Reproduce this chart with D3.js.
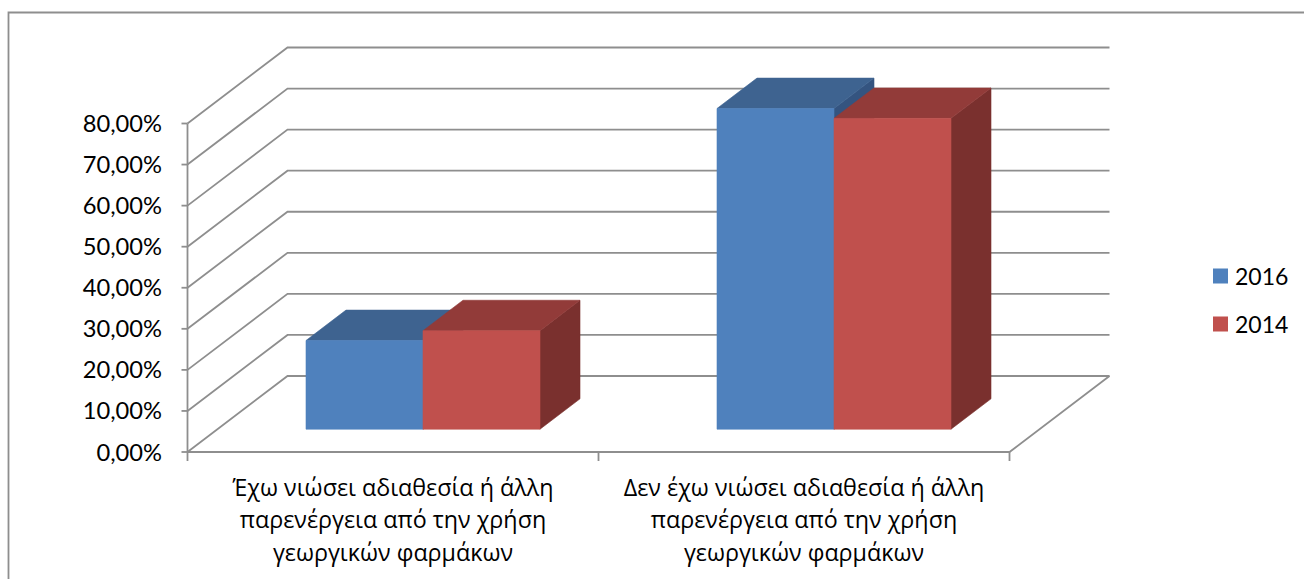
<!DOCTYPE html>
<html><head><meta charset="utf-8">
<script src="https://cdn.jsdelivr.net/npm/d3@7"></script>
<style>html,body{margin:0;padding:0;background:#fff}svg{display:block}
text{fill:#000}
.num{font-family:Lato,"Noto Sans",sans-serif}
.cat{font-family:"Open Sans","Noto Sans",sans-serif}</style></head>
<body><svg id="c" width="1304" height="579"></svg>
<script>
const categories = [
  ["Έχω νιώσει αδιαθεσία ή άλλη","παρενέργεια από την χρήση","γεωργικών φαρμάκων"],
  ["Δεν έχω νιώσει αδιαθεσία ή άλλη","παρενέργεια από την χρήση","γεωργικών φαρμάκων"]
];
const seriesNames = ["2016","2014"];
const values2016 = [21.6, 78.1];
const values2014 = [24.0, 75.7];
const yTicks = [0,10,20,30,40,50,60,70,80];
const faceColors = ["#4F81BD","#C0504D"];
const topColors  = ["#3E6390","#923B39"];
const sideColors = ["#345480","#7A302E"];
const gridColor = "#8E8E8E";

const svg = d3.select("#c");
const y = d3.scaleLinear().domain([0,80]).range([452,123.5]);
const x = d3.scaleBand().domain([0,1]).range([187.5,1009.5]);
const xs = d3.scaleBand().domain([0,1]).range([0,234]).paddingInner(0);
const z = d3.scaleLinear().domain([0,1]).range([0,1]);
const depthX = 100, depthY = -76;
const px = (xv,zv)=> xv + depthX*z(zv);
const py = (v,zv)=> y(v) + depthY*z(zv);
const xEnd = x.range()[1], xStart = x.range()[0];

svg.append("path").attr("d",`M8.5,579V12.5H1304`).attr("fill","none").attr("stroke",gridColor).attr("stroke-width",1.8);

const g = svg.append("g").attr("fill","none").attr("stroke",gridColor).attr("stroke-width",1.8);
yTicks.forEach(t=>{
  g.append("path").attr("d",d3.line()([[px(xStart,0),py(t,0)],[px(xStart,1),py(t,1)],[px(xEnd,1),py(t,1)]]));
  g.append("line").attr("x1",xStart-6).attr("x2",xStart).attr("y1",y(t)).attr("y2",y(t));
});
g.append("line").attr("x1",xStart).attr("x2",xStart).attr("y1",y(0)).attr("y2",y(80));
g.append("path").attr("d",d3.line()([[xStart,y(0)],[xEnd,y(0)],[px(xEnd,1),py(0,1)]]));
[xStart,x(1),xEnd].forEach(v=>g.append("line").attr("x1",v).attr("x2",v).attr("y1",y(0)).attr("y2",y(0)+9));

const zFront=0.3, zBack=0.7;
const rows = [values2016, values2014];
rows.forEach((vals,s)=>{
  vals.forEach((v,c)=>{
    const x0 = x(c)+(x.bandwidth()-xs.range()[1])/2+xs(s), x1 = x0+xs.bandwidth();
    const G = svg.append("g");
    const poly=(pts,fill)=>G.append("path").attr("d",d3.line()(pts)+"Z").attr("fill",fill).attr("stroke",fill).attr("stroke-width",0.6);
    poly([[px(x1,zFront),py(0,zFront)],[px(x1,zBack),py(0,zBack)],[px(x1,zBack),py(v,zBack)],[px(x1,zFront),py(v,zFront)]],sideColors[s]);
    poly([[px(x0,zFront),py(v,zFront)],[px(x1,zFront),py(v,zFront)],[px(x1,zBack),py(v,zBack)],[px(x0,zBack),py(v,zBack)]],topColors[s]);
    poly([[px(x0,zFront),py(0,zFront)],[px(x1,zFront),py(0,zFront)],[px(x1,zFront),py(v,zFront)],[px(x0,zFront),py(v,zFront)]],faceColors[s]);
  });
});

const fmt = t=>t.toFixed(2).replace(".",",")+"%";
yTicks.forEach(t=>svg.append("text").attr("class","num").attr("x",162).attr("y",y(t)+8.5).attr("text-anchor","end").attr("font-size",23.7).text(fmt(t)));

categories.forEach((lines,c)=>{
  lines.forEach((l,i)=>svg.append("text").attr("class","cat").attr("x",x(c)+x.bandwidth()/2).attr("y",495.5+i*32.5).attr("text-anchor","middle").attr("font-size",23.3).text(l));
});

const legendY = d3.scalePoint().domain(seriesNames).range([276,324]);
seriesNames.forEach((n,i)=>{
  svg.append("rect").attr("x",1213).attr("y",legendY(n)-7.5).attr("width",15).attr("height",15).attr("fill",faceColors[i]);
  svg.append("text").attr("class","num").attr("x",1235).attr("y",legendY(n)+8.5).attr("font-size",23).text(n);
});
</script></body></html>
